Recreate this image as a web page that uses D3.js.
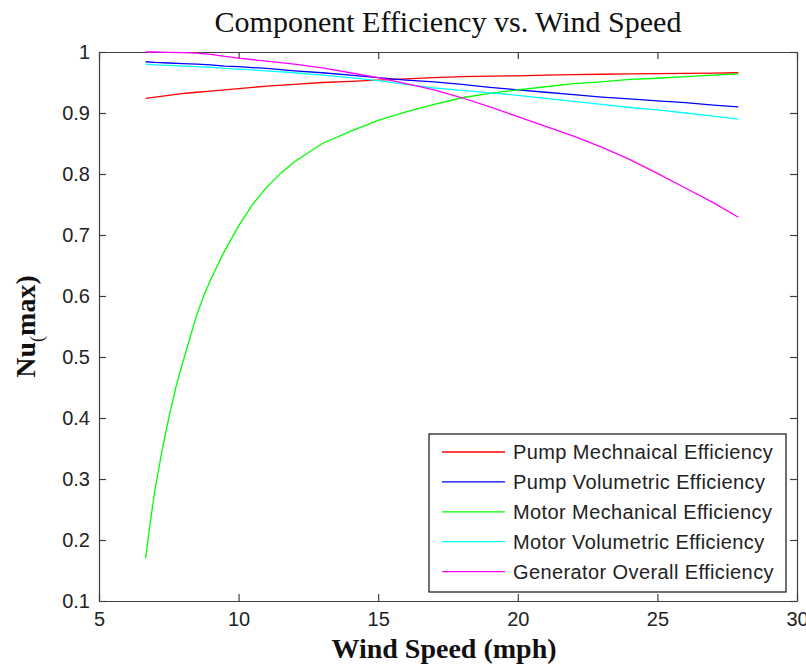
<!DOCTYPE html>
<html>
<head>
<meta charset="utf-8">
<script src="https://cdn.jsdelivr.net/npm/d3@7"></script>
<style>
  body { margin: 0; background: #fff; }
  svg { display: block; }
  .tick text { font-family: "Liberation Sans", Arial, sans-serif; font-size: 20px; fill: #222; }
  .axis path, .axis line { stroke: #404040; stroke-width: 1.2; }
</style>
</head>
<body>
<div id="chart"></div>
<script>
// wind speed samples (mph)
const windSpeed = [6.67, 7, 7.5, 8, 8.5, 9, 9.5, 10, 11, 12, 13, 14, 15, 16, 17, 18, 19, 20, 21, 22, 23, 24, 25, 26, 27, 27.9];

const pumpMech   = [0.924, 0.926, 0.929, 0.932, 0.934, 0.936, 0.938, 0.940, 0.944, 0.947, 0.950, 0.952, 0.954, 0.956, 0.958, 0.9595, 0.9605, 0.961, 0.962, 0.963, 0.9635, 0.964, 0.9645, 0.965, 0.9655, 0.966];
const pumpVol    = [0.984, 0.983, 0.982, 0.981, 0.980, 0.979, 0.977, 0.976, 0.973, 0.969, 0.966, 0.962, 0.958, 0.954, 0.951, 0.947, 0.942, 0.938, 0.934, 0.930, 0.926, 0.923, 0.920, 0.917, 0.913, 0.910];
const motorVol   = [0.980, 0.979, 0.978, 0.977, 0.976, 0.975, 0.973, 0.972, 0.969, 0.966, 0.962, 0.958, 0.953, 0.947, 0.941, 0.937, 0.933, 0.929, 0.924, 0.919, 0.914, 0.909, 0.905, 0.900, 0.895, 0.890];
const genOverall = [1.000, 1.000, 0.9995, 0.999, 0.998, 0.996, 0.993, 0.990, 0.985, 0.980, 0.974, 0.966, 0.958, 0.948, 0.938, 0.925, 0.910, 0.894, 0.878, 0.862, 0.844, 0.824, 0.801, 0.777, 0.753, 0.729];

// motor mechanical efficiency bends sharply at low speed, so it is read more densely
const motorMechSpeed = [6.67, 6.8, 7, 7.25, 7.5, 7.75, 8, 8.25, 8.5, 8.75, 9, 9.5, 10, 10.5, 11, 11.5, 12, 13, 14, 15, 16, 17, 18, 19, 20, 21, 22, 23, 24, 25, 26, 27, 27.9];
const motorMech      = [0.170, 0.217, 0.281, 0.345, 0.400, 0.450, 0.491, 0.530, 0.569, 0.600, 0.627, 0.674, 0.715, 0.750, 0.778, 0.801, 0.820, 0.850, 0.870, 0.888, 0.902, 0.914, 0.925, 0.932, 0.938, 0.943, 0.948, 0.951, 0.955, 0.957, 0.9595, 0.962, 0.964];

const seriesNames = ["Pump Mechnaical Efficiency", "Pump Volumetric Efficiency", "Motor Mechanical Efficiency", "Motor Volumetric Efficiency", "Generator Overall Efficiency"];
const seriesColors = ["#ff0000", "#0000ff", "#00ff00", "#00ffff", "#ff00ff"];
const seriesX = [windSpeed, windSpeed, motorMechSpeed, windSpeed, windSpeed];
const seriesY = [pumpMech, pumpVol, motorMech, motorVol, genOverall];

const xTicks = [5, 10, 15, 20, 25, 30];
const yTicks = [0.1, 0.2, 0.3, 0.4, 0.5, 0.6, 0.7, 0.8, 0.9, 1];

const W = 806, H = 669;
const margin = { top: 52, left: 99, right: 9, bottom: 68 };
const width = W - margin.left - margin.right,
      height = H - margin.top - margin.bottom;

const svg = d3.select("#chart").append("svg")
    .attr("width", W)
    .attr("height", H);

const g = svg.append("g")
    .attr("transform", "translate(" + margin.left + "," + margin.top + ")");

const xScale = d3.scaleLinear().domain([5, 30]).range([0, width]);
const yScale = d3.scaleLinear().domain([0.1, 1]).range([height, 0]);

// axes box with inward ticks on all sides
g.append("g")
    .attr("class", "axis")
    .attr("transform", "translate(0," + height + ")")
    .call(d3.axisBottom(xScale).tickValues(xTicks).tickFormat(d3.format("d"))
      .tickSizeInner(-7).tickSizeOuter(0).tickPadding(11));

g.append("g")
    .attr("class", "axis")
    .call(d3.axisLeft(yScale).tickValues(yTicks).tickFormat(d => d === 1 ? "1" : d3.format(".1f")(d))
      .tickSizeInner(-7).tickSizeOuter(0).tickPadding(9));

g.append("g")
    .attr("class", "axis")
    .call(d3.axisTop(xScale).tickValues(xTicks).tickFormat("")
      .tickSizeInner(-7).tickSizeOuter(0));

g.append("g")
    .attr("class", "axis")
    .attr("transform", "translate(" + width + ",0)")
    .call(d3.axisRight(yScale).tickValues(yTicks).tickFormat("")
      .tickSizeInner(-7).tickSizeOuter(0));

// lines
const series = seriesY.map((vals, i) => vals.map((v, j) => [seriesX[i][j], v]));

const line = d3.line()
    .x(d => xScale(d[0]))
    .y(d => yScale(d[1]));

g.selectAll(".series")
    .data(series)
    .enter()
    .append("path")
    .attr("class", "series")
    .attr("fill", "none")
    .attr("stroke", (d, i) => seriesColors[i])
    .attr("stroke-width", 1.3)
    .attr("d", line);

// title and labels
svg.append("text")
    .attr("x", margin.left + width / 2)
    .attr("y", 32)
    .attr("text-anchor", "middle")
    .style("font-family", "'Liberation Serif', 'Times New Roman', serif")
    .style("font-size", "30px")
    .attr("fill", "#111")
    .text("Component Efficiency vs. Wind Speed");

svg.append("text")
    .attr("x", margin.left + width / 2 - 4)
    .attr("y", 658)
    .attr("text-anchor", "middle")
    .style("font-family", "'Liberation Serif', 'Times New Roman', serif")
    .style("font-size", "28px")
    .style("font-weight", "bold")
    .attr("fill", "#111")
    .text("Wind Speed (mph)");

const yLabel = svg.append("text")
    .attr("transform", "translate(35," + (margin.top + height / 2) + ") rotate(-90)")
    .attr("text-anchor", "middle")
    .style("font-family", "'Liberation Serif', 'Times New Roman', serif")
    .style("font-size", "28px")
    .style("font-weight", "bold")
    .attr("fill", "#111");
yLabel.append("tspan").text("Nu");
yLabel.append("tspan").attr("dy", 8).style("font-size", "18px").style("font-weight", "normal").text("(");
yLabel.append("tspan").attr("dy", -8).text("max)");

// legend
const legend = g.append("g")
    .attr("transform", "translate(" + (429 - margin.left) + "," + (434 - margin.top) + ")");

legend.append("rect")
    .attr("width", 357)
    .attr("height", 158)
    .attr("fill", "#fff")
    .attr("stroke", "#111")
    .attr("stroke-width", 1.2);

const rows = legend.selectAll(".legendRow")
    .data(seriesNames)
    .enter()
    .append("g")
    .attr("class", "legendRow")
    .attr("transform", (d, i) => "translate(0," + (18 + i * 29.9) + ")");

rows.append("line")
    .attr("x1", 13).attr("x2", 76)
    .attr("stroke", (d, i) => seriesColors[i])
    .attr("stroke-width", 1.3);

rows.append("text")
    .attr("x", 84)
    .attr("y", 7)
    .style("font-family", "'Liberation Sans', Arial, sans-serif")
    .style("font-size", "20px")
    .style("letter-spacing", "0.4px")
    .attr("fill", "#222")
    .text(d => d);
</script>
</body>
</html>
